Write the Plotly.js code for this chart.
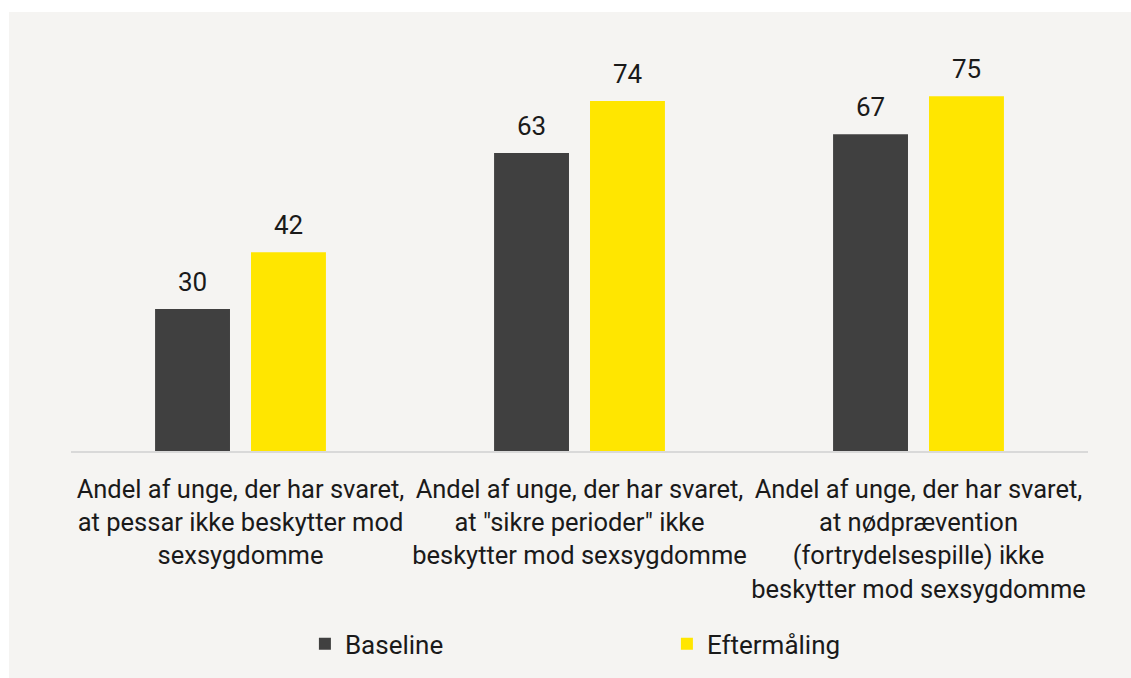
<!DOCTYPE html>
<html>
<head>
<meta charset="utf-8">
<script src="https://cdn.plot.ly/plotly-3.0.1.min.js"></script>
<style>
  html, body { margin: 0; padding: 0; background: #ffffff; }
  #chart { position: absolute; left: 9px; top: 12px; width: 1122px; height: 666px; }
</style>
</head>
<body>
<div id="chart"></div>
<script>
const categories = [
  "Andel af unge, der har svaret,<br>at pessar ikke beskytter mod<br>sexsygdomme",
  "Andel af unge, der har svaret,<br>at \"sikre perioder\" ikke<br>beskytter mod sexsygdomme",
  "Andel af unge, der har svaret,<br>at nødprævention<br>(fortrydelsespille) ikke<br>beskytter mod sexsygdomme"
];
const baseline = [30, 63, 67];
const eftermaling = [42, 74, 75];
const seriesNames = ["Baseline", "Eftermåling"];
const colors = ["#404040", "#FFE600"];

const font = "Roboto, 'Noto Sans', sans-serif";
const traces = [
  { type: "bar", name: seriesNames[0], x: categories, y: baseline, marker: { color: colors[0] }, hoverinfo: "none" },
  { type: "bar", name: seriesNames[1], x: categories, y: eftermaling, marker: { color: colors[1] }, hoverinfo: "none" }
];

const slotPx = 48;
const annotations = [];
[baseline, eftermaling].forEach((vals, si) => {
  vals.forEach((v, i) => {
    annotations.push({
      x: categories[i], y: v, xref: "x", yref: "y",
      text: String(v), showarrow: false,
      xshift: si === 0 ? -slotPx : slotPx, yshift: 10,
      yanchor: "bottom", xanchor: "center",
      font: { family: font, size: 26, color: "#1a1a1a" }
    });
  });
});

const layout = {
  width: 1122, height: 666,
  paper_bgcolor: "#F5F4F2", plot_bgcolor: "#F5F4F2",
  margin: { l: 62, r: 43, t: 37, b: 227, autoexpand: false },
  barmode: "group", bargap: 0.434, bargroupgap: 0.219,
  showlegend: true,
  legend: {
    orientation: "h", x: 0.230, xanchor: "left", y: -0.48, yanchor: "middle",
    entrywidth: 317, entrywidthmode: "pixels",
    font: { family: font, size: 26, color: "#1a1a1a" },
    bgcolor: "rgba(0,0,0,0)", traceorder: "normal"
  },
  xaxis: {
    showline: true, linecolor: "#d9d9d9", linewidth: 1.5,
    ticks: "", showgrid: false, zeroline: false,
    tickfont: { family: font, size: 25.5, color: "#1a1a1a" },
    ticklabelstandoff: 15, fixedrange: true
  },
  yaxis: {
    range: [0, 85], visible: false, showgrid: false, zeroline: false, fixedrange: true
  },
  annotations: annotations,
  font: { family: font }
};

Plotly.newPlot("chart", traces, layout, { displayModeBar: false, staticPlot: true });
</script>
</body>
</html>
